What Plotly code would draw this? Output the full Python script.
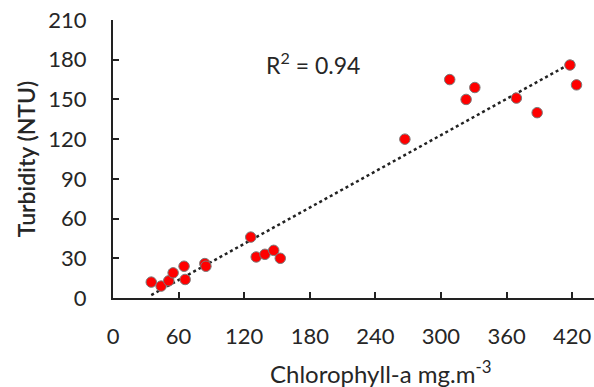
import numpy as np
import plotly.graph_objects as go

chl = [35, 44, 51, 55, 65, 66, 84, 85, 126, 131, 139, 147, 153,
       267, 308, 323, 331, 369, 388, 418, 424]
turb = [12, 9, 13, 19, 24, 14, 26, 24, 46, 31, 33, 36, 30,
        120, 165, 150, 159, 151, 140, 176, 161]
x_ticks = [0, 60, 120, 180, 240, 300, 360, 420]
y_ticks = [0, 30, 60, 90, 120, 150, 180, 210]
r2_label = "R<sup>2</sup> = 0.94"
x_title = "Chlorophyll-a mg.m<sup>-3</sup>"
y_title = "Turbidity (NTU)"

slope, intercept = np.polyfit(chl, turb, 1)
x_line = [min(chl), max(chl)]
y_line = [slope * v + intercept for v in x_line]

font_family = "Lato, 'Open Sans', sans-serif"
txt_color = "#262626"

fig = go.Figure()
fig.add_trace(go.Scatter(
    x=x_line, y=y_line, mode="lines",
    line=dict(color="#222222", width=2.5, dash="dot"),
    hoverinfo="skip", showlegend=False))
fig.add_trace(go.Scatter(
    x=chl, y=turb, mode="markers",
    marker=dict(color="#ff0000", size=10.5, line=dict(color="#7a7a7a", width=1)),
    showlegend=False))

fig.add_annotation(x=183, y=177, xref="x", yref="y", text=r2_label,
                   showarrow=False, font=dict(family=font_family, size=23, color=txt_color))
fig.add_annotation(x=0.557, y=-0.266, xref="paper", yref="paper", text=x_title,
                   xanchor="center", yanchor="middle", showarrow=False,
                   font=dict(family=font_family, size=24, color=txt_color))

fig.update_layout(
    width=594, height=387,
    margin=dict(l=113, r=0, t=20, b=89),
    plot_bgcolor="white", paper_bgcolor="white",
    font=dict(family=font_family, size=22, color=txt_color),
    xaxis=dict(range=[0, 440], tickvals=x_ticks, ticks="inside", ticklen=6,
               tickwidth=1.5, tickcolor="#222222", ticklabelstandoff=18,
               showline=True, linecolor="#222222", linewidth=2,
               showgrid=False, zeroline=False,
               tickfont=dict(size=22)),
    yaxis=dict(range=[0, 210], tickvals=y_ticks, ticks="inside", ticklen=6,
               tickwidth=1.5, tickcolor="#222222", ticklabelstandoff=20,
               showline=True, linecolor="#222222", linewidth=2,
               showgrid=False, zeroline=False,
               title=dict(text=y_title, standoff=6,
                          font=dict(size=23, weight=600)),
               tickfont=dict(size=22)),
)
fig.write_html("out.html")
